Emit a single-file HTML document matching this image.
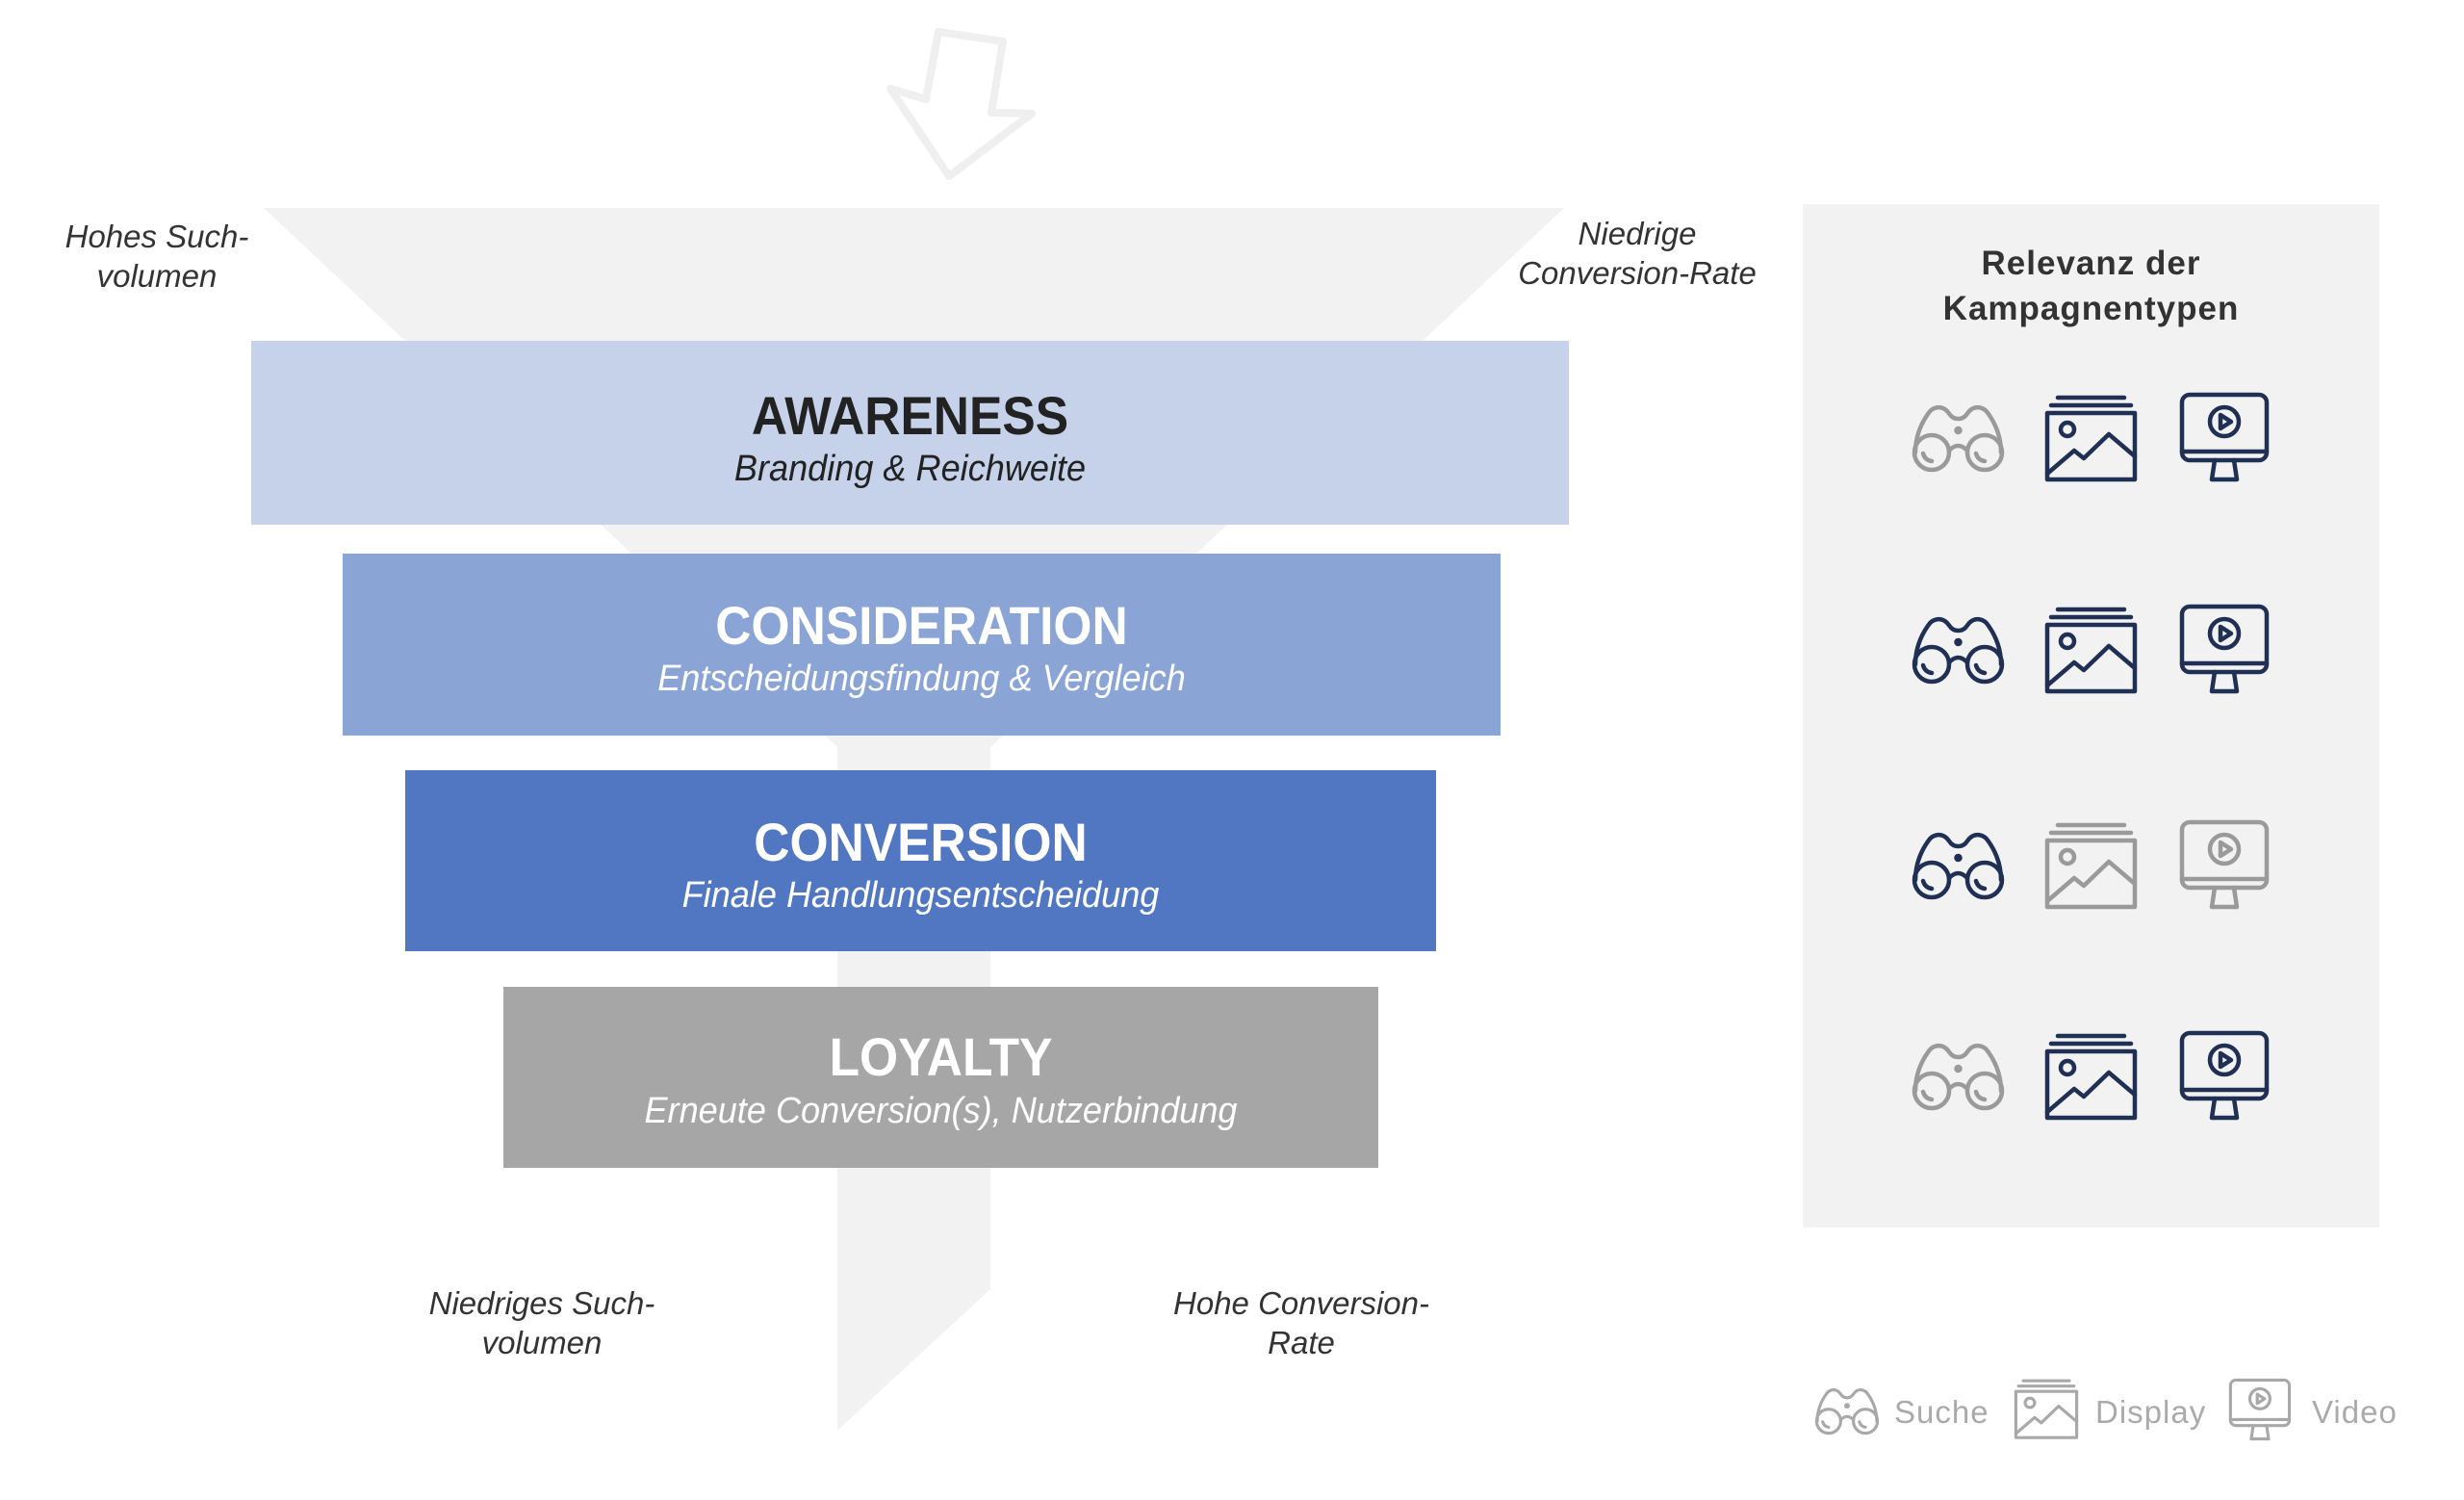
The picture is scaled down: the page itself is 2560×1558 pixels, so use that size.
<!DOCTYPE html>
<html><head><meta charset="utf-8">
<style>
html,body{margin:0;padding:0;background:#fff;}
body{width:2560px;height:1558px;position:relative;overflow:hidden;font-family:"Liberation Sans",sans-serif;}
.box{position:absolute;text-align:center;}
.t{position:absolute;left:0;right:0;font-weight:bold;font-size:56px;line-height:1;transform:scaleX(0.92);}
.s{position:absolute;left:0;right:0;font-style:italic;font-size:38px;line-height:1;transform:scaleX(0.95);}
.lbl{position:absolute;font-style:italic;font-size:33px;color:#333;text-align:center;line-height:41px;width:360px;}
.ico{position:absolute;overflow:visible;fill:none;stroke-width:4.5;stroke-linecap:round;stroke-linejoin:round;}
.leg{position:absolute;font-size:33px;color:#aaa;letter-spacing:1px;line-height:1;}
</style></head><body>
<svg width="2560" height="1558" style="position:absolute;left:0;top:0">
<polygon points="274,216 1625,216 1029,776 1029,1339 870,1486 870,776" fill="#f2f2f2"/>
<polygon points="975,33 1042,43 1030,117 1072,118 986,183 925,92 962,103" fill="none" stroke="#efefef" stroke-width="8" stroke-linejoin="round"/>
<rect x="1873" y="212" width="599" height="1063" fill="#f2f2f2"/>
</svg>

<div class="box" style="left:261px;top:354px;width:1369px;height:191px;background:#c5d2e9;color:#222">
<div class="t" style="top:50px">AWARENESS</div><div class="s" style="top:114px">Branding &amp; Reichweite</div></div>
<div class="box" style="left:356px;top:575px;width:1203px;height:189px;background:#8aa4d6;color:#fff">
<div class="t" style="top:47px">CONSIDERATION</div><div class="s" style="top:111px">Entscheidungsfindung &amp; Vergleich</div></div>
<div class="box" style="left:421px;top:800px;width:1071px;height:188px;background:#5177c2;color:#fff">
<div class="t" style="top:47px">CONVERSION</div><div class="s" style="top:111px">Finale Handlungsentscheidung</div></div>
<div class="box" style="left:523px;top:1025px;width:909px;height:188px;background:#a6a6a6;color:#fff">
<div class="t" style="top:45px">LOYALTY</div><div class="s" style="top:110px">Erneute Conversion(s), Nutzerbindung</div></div>

<div class="lbl" style="left:-17px;top:225px">Hohes Such-<br>volumen</div>
<div class="lbl" style="left:1521px;top:222px">Niedrige<br>Conversion-Rate</div>
<div class="lbl" style="left:383px;top:1333px">Niedriges Such-<br>volumen</div>
<div class="lbl" style="left:1172px;top:1333px">Hohe Conversion-<br>Rate</div>

<div style="position:absolute;left:1873px;width:599px;top:250px;text-align:center;font-weight:bold;font-size:35px;line-height:47px;color:#333;letter-spacing:1px">Relevanz der<br>Kampagnentypen</div>

<svg width="0" height="0" style="position:absolute">
<defs>
<g id="bino">
<circle cx="20" cy="52" r="18"/><circle cx="75" cy="52" r="18"/>
<path d="M3,52 C3,36 9,22 16,12 C21,4 30,3 36,9 L40,14 C44,18 51,18 55,14 L59,9 C65,3 74,4 79,12 C86,22 92,36 92,52"/>
<path d="M38,50 Q47.5,40 57,50"/>
<circle cx="47.5" cy="29" r="2" fill="currentColor"/>
<path d="M11,53 Q13,60 20,61"/><path d="M66,53 Q68,60 75,61"/>
</g>
<g id="disp">
<path d="M13,3 H82 M6,11 H89"/>
<rect x="2" y="19" width="91" height="69"/>
<circle cx="23" cy="36" r="7"/>
<polyline points="2,82 30,58 40,66 66,41 93,64"/>
</g>
<g id="vid">
<rect x="2" y="2" width="88" height="68" rx="8"/>
<path d="M2,61 H90"/>
<circle cx="46" cy="30" r="15"/>
<path d="M42,23 L53,30 L42,37 Z"/>
<path d="M36,70 L33,90 H59 L56,70"/>
</g>
</defs>
</svg>

<svg class="ico" style="left:1987px;top:418px" width="95" height="92" color="#9a9a9a" stroke="currentColor"><use href="#bino"/></svg>
<svg class="ico" style="left:2125px;top:410px" width="95" height="92" color="#1f3054" stroke="currentColor"><use href="#disp"/></svg>
<svg class="ico" style="left:2265px;top:408px" width="95" height="92" color="#1f3054" stroke="currentColor"><use href="#vid"/></svg>

<svg class="ico" style="left:1987px;top:638px" width="95" height="92" color="#1f3054" stroke="currentColor"><use href="#bino"/></svg>
<svg class="ico" style="left:2125px;top:630px" width="95" height="92" color="#1f3054" stroke="currentColor"><use href="#disp"/></svg>
<svg class="ico" style="left:2265px;top:628px" width="95" height="92" color="#1f3054" stroke="currentColor"><use href="#vid"/></svg>

<svg class="ico" style="left:1987px;top:862px" width="95" height="92" color="#1f3054" stroke="currentColor"><use href="#bino"/></svg>
<svg class="ico" style="left:2125px;top:854px" width="95" height="92" color="#9a9a9a" stroke="currentColor"><use href="#disp"/></svg>
<svg class="ico" style="left:2265px;top:852px" width="95" height="92" color="#9a9a9a" stroke="currentColor"><use href="#vid"/></svg>

<svg class="ico" style="left:1987px;top:1081px" width="95" height="92" color="#9a9a9a" stroke="currentColor"><use href="#bino"/></svg>
<svg class="ico" style="left:2125px;top:1073px" width="95" height="92" color="#1f3054" stroke="currentColor"><use href="#disp"/></svg>
<svg class="ico" style="left:2265px;top:1071px" width="95" height="92" color="#1f3054" stroke="currentColor"><use href="#vid"/></svg>

<svg class="ico" style="left:1886px;top:1440px" width="66" height="64" viewBox="0 0 95 92" color="#a8a8a8" stroke="currentColor"><use href="#bino"/></svg>
<div class="leg" style="left:1968px;top:1450px">Suche</div>
<svg class="ico" style="left:2093px;top:1432px" width="66" height="64" viewBox="0 0 95 92" color="#a8a8a8" stroke="currentColor"><use href="#disp"/></svg>
<div class="leg" style="left:2177px;top:1450px">Display</div>
<svg class="ico" style="left:2316px;top:1432px" width="66" height="64" viewBox="0 0 95 92" color="#a8a8a8" stroke="currentColor"><use href="#vid"/></svg>
<div class="leg" style="left:2402px;top:1450px">Video</div>
</body></html>
